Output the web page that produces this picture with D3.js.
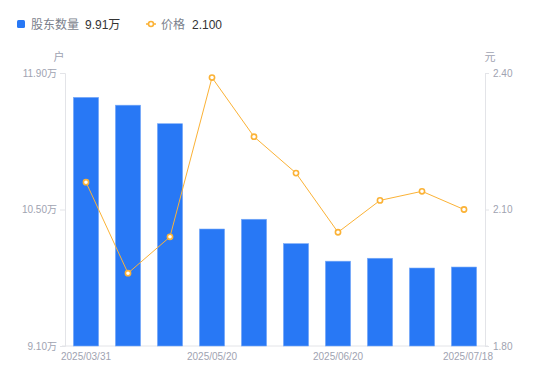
<!DOCTYPE html>
<html><head><meta charset="utf-8">
<script src="https://cdn.jsdelivr.net/npm/d3@7"></script>
<style>body{margin:0;background:#fff;font-family:"Noto Sans CJK SC","Noto Sans",sans-serif;}</style>
</head><body><svg id="c" width="550" height="381"></svg>
<script>
const dates = ["2025/03/31","2025/04/10","2025/04/30","2025/05/20","2025/05/30","2025/06/10","2025/06/20","2025/06/30","2025/07/10","2025/07/18"];
const holders = [11.65,11.57,11.38,10.30,10.40,10.15,9.97,10.00,9.90,9.91];
const prices = [2.16,1.96,2.04,2.39,2.26,2.18,2.05,2.12,2.14,2.10];
const leftTicks = [9.10,10.50,11.90];
const rightTicks = [1.80,2.10,2.40];
const shownDates = ["2025/03/31","2025/05/20","2025/06/20","2025/07/18"];

const svg = d3.select("#c");
const L = 65, R = 485, T = 73, B = 346;
const x = d3.scaleBand().domain(dates).range([L, R]).paddingInner(0.4).paddingOuter(0.2);
const yL = d3.scaleLinear().domain([9.10, 11.90]).range([B, T]);
const yR = d3.scaleLinear().domain([1.80, 2.40]).range([B, T]);
const gray = "#a0a3b1", axisC = "#e3e4e8";
const blue = "#2878f5", orange = "#fbb236";

// axes
const ax = svg.append("g").attr("font-size", 10).attr("fill", gray);
const gl = svg.append("g").attr("transform", `translate(${L},0)`)
  .call(d3.axisLeft(yL).tickValues(leftTicks).tickSize(5).tickPadding(3).tickFormat(d => d3.format(".2f")(d) + "万"));
const gr = svg.append("g").attr("transform", `translate(${R},0)`)
  .call(d3.axisRight(yR).tickValues(rightTicks).tickSize(4).tickPadding(4).tickFormat(d3.format(".2f")));
const xc = d3.scalePoint().domain(dates).range([L, R]);
const gb = svg.append("g").attr("transform", `translate(0,${B})`)
  .call(d3.axisBottom(x).tickValues(shownDates).tickSize(0).tickPadding(7));
[gl, gr, gb].forEach(g => {
  g.select(".domain").attr("stroke", axisC);
  g.selectAll(".tick line").attr("stroke", axisC);
  g.selectAll("text").attr("fill", gray).attr("font-size", 10)
    .attr("font-family", "'Liberation Sans','Noto Sans CJK SC',sans-serif");
});
gb.select(".domain").attr("d", `M${L-3},0H${R+3}`);
gb.selectAll(".tick text").filter(d => d === dates[dates.length-1]).attr("text-anchor", "end").attr("dx", 0)
  .attr("x", R + 8 - x(dates[9]) - x.bandwidth()/2);

// bars
svg.append("g").selectAll("rect").data(dates).join("rect")
  .attr("x", d => x(d)).attr("width", x.bandwidth())
  .attr("y", (d, i) => yL(holders[i])).attr("height", (d, i) => B - yL(holders[i]))
  .attr("fill", blue).attr("stroke", "#7aabf8").attr("stroke-width", 0.6);

// line
const cx = d => x(d) + x.bandwidth() / 2;
svg.append("path").datum(dates)
  .attr("d", d3.line().x(cx).y((d, i) => yR(prices[i])))
  .attr("fill", "none").attr("stroke", orange).attr("stroke-width", 1);
svg.append("g").selectAll("circle").data(dates).join("circle")
  .attr("cx", cx).attr("cy", (d, i) => yR(prices[i])).attr("r", 2.6)
  .attr("fill", "#fff").attr("stroke", orange).attr("stroke-width", 1.6);

// unit labels
svg.append("text").attr("x", 59).attr("y", 61).attr("text-anchor", "middle").attr("font-size", 11).attr("fill", gray).text("户");
svg.append("text").attr("x", 490).attr("y", 61).attr("text-anchor", "middle").attr("font-size", 11).attr("fill", gray).text("元");

// legend
const lg = svg.append("g").attr("font-size", 12);
lg.append("rect").attr("x", 17).attr("y", 20).attr("width", 8).attr("height", 8).attr("rx", 1.5).attr("fill", blue);
lg.append("text").attr("x", 31).attr("y", 29).attr("fill", "#7b7f8c").text("股东数量");
lg.append("text").attr("x", 85).attr("y", 29).attr("fill", "#333").attr("font-family", "'Liberation Sans','Noto Sans CJK SC',sans-serif").text(holders[holders.length-1].toFixed(2) + "万");
lg.append("line").attr("x1", 146).attr("x2", 156).attr("y1", 24).attr("y2", 24).attr("stroke", orange).attr("stroke-width", 1.5);
lg.append("circle").attr("cx", 151).attr("cy", 24).attr("r", 2.5).attr("fill", "#fff").attr("stroke", orange).attr("stroke-width", 1.6);
lg.append("text").attr("x", 161).attr("y", 29).attr("fill", "#7b7f8c").text("价格");
lg.append("text").attr("x", 192).attr("y", 29).attr("fill", "#333").attr("font-family", "'Liberation Sans','Noto Sans CJK SC',sans-serif").text(prices[prices.length-1].toFixed(3));
</script></body></html>
